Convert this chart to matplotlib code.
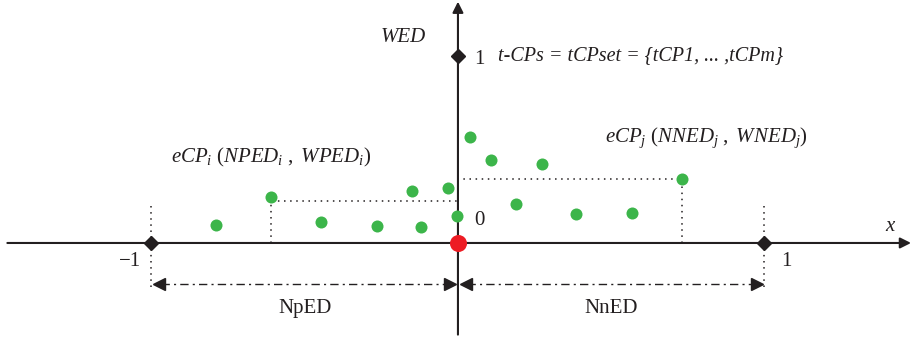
import numpy as np
import matplotlib.pyplot as plt

plt.rcParams['font.family'] = ['Liberation Serif', 'DejaVu Serif']
plt.rcParams['mathtext.fontset'] = 'custom'
plt.rcParams['mathtext.rm'] = 'Liberation Serif'
plt.rcParams['mathtext.it'] = 'Liberation Serif:italic'

# candidate points (normalised distance, weight)
left_x = [-0.790, -0.610, -0.447, -0.264, -0.121, -0.150, -0.033, -0.003]
left_y = [0.096, 0.246, 0.112, 0.091, 0.086, 0.278, 0.294, 0.144]
right_x = [0.039, 0.108, 0.189, 0.274, 0.385, 0.568, 0.731]
right_y = [0.567, 0.444, 0.209, 0.422, 0.155, 0.160, 0.342]

# highlighted points with projection guides
guide_left = (-0.610, 0.246)
guide_right = (0.731, 0.342)

tick_x = [-1, 1]
tick_x_labels = ["\u22121", "1"]
tick_y = [1]
tick_y_labels = ["1"]

INK = "#231f20"
GREEN = "#3cb54a"
RED = "#ed1c24"

fig = plt.figure(figsize=(9.11, 3.38), dpi=100)
ax = fig.add_axes([0, 0, 1, 1])
ax.set_xlim(-1.494, 1.478)
ax.set_ylim(-0.508, 1.299)
ax.axis('off')

# axes with arrow heads
ax.annotate('', xy=(1.478, 0), xytext=(-1.47, 0),
            arrowprops=dict(arrowstyle='-|>', lw=1.5, color=INK,
                            mutation_scale=16, shrinkA=0, shrinkB=0))
ax.annotate('', xy=(0, 1.29), xytext=(0, -0.49),
            arrowprops=dict(arrowstyle='-|>', lw=1.5, color=INK,
                            mutation_scale=16, shrinkA=0, shrinkB=0))

# dotted guides at -1 and 1
for x in tick_x:
    ax.plot([x, x], [0.2, -0.25], ls=(0, (1, 3)), color=INK, lw=1.1)

# projection guides for eCP_i and eCP_j
gx, gy = guide_left
ax.plot([gx, gx, 0], [0, gy - 0.02, gy - 0.02], ls=(0, (1, 3)), color=INK, lw=1.1)
gx, gy = guide_right
ax.plot([gx, gx, 0], [0, gy, gy], ls=(0, (1, 3)), color=INK, lw=1.1)

# range arrows NpED / NnED
ya = -0.22
for a, b in [(-1, 0), (0, 1)]:
    ax.plot([a + 0.03, b - 0.03], [ya, ya], ls=(0, (6, 3, 1.5, 3)), color=INK, lw=1.0)
    ax.plot([a + 0.025], [ya], marker='<', ms=8, color=INK, mec=INK)
    ax.plot([b - 0.025], [ya], marker='>', ms=8, color=INK, mec=INK)

# diamond ticks
ax.plot(tick_x, [0, 0], ls='none', marker='D', ms=7, color=INK)
ax.plot([0] * len(tick_y), tick_y, ls='none', marker='D', ms=7, color=INK)

# points
ax.scatter(left_x + right_x, left_y + right_y, s=75, color=GREEN, zorder=3, lw=0)
ax.scatter([0], [0], s=150, color=RED, zorder=4, lw=0)

# labels
fs = 15
for x, lab in zip(tick_x, tick_x_labels):
    ax.text(x + (-0.07 if x < 0 else 0.07), -0.05, lab, fontsize=fs, color=INK,
            ha='center', va='top')
for y, lab in zip(tick_y, tick_y_labels):
    ax.text(0.07, y - 0.02, lab, fontsize=fs, color=INK, ha='center', va='center')
ax.text(0.07, 0.12, "0", fontsize=fs, color=INK, ha='center', va='center')
ax.text(1.41, 0.09, "x", fontsize=fs, color=INK, style='italic',
        ha='center', va='center')
ax.text(-0.18, 1.10, "WED", fontsize=fs, color=INK, style='italic',
        ha='center', va='center')
ax.text(0.13, 1.0, "t-CPs = tCPset = {tCP1, ... ,tCPm}", fontsize=14.5,
        color=INK, style='italic', ha='left', va='center')
ax.text(-0.935, 0.455, "$eCP_i\\ (NPED_i\\ ,\\ WPED_i)$", fontsize=fs, color=INK,
        ha='left', va='center')
ax.text(0.48, 0.56, "$eCP_j\\ (NNED_j\\ ,\\ WNED_j)$", fontsize=fs, color=INK,
        ha='left', va='center')
ax.text(-0.5, -0.35, "NpED", fontsize=fs, color=INK, ha='center', va='center')
ax.text(0.5, -0.35, "NnED", fontsize=fs, color=INK, ha='center', va='center')

fig.savefig("out.png", dpi=100)
